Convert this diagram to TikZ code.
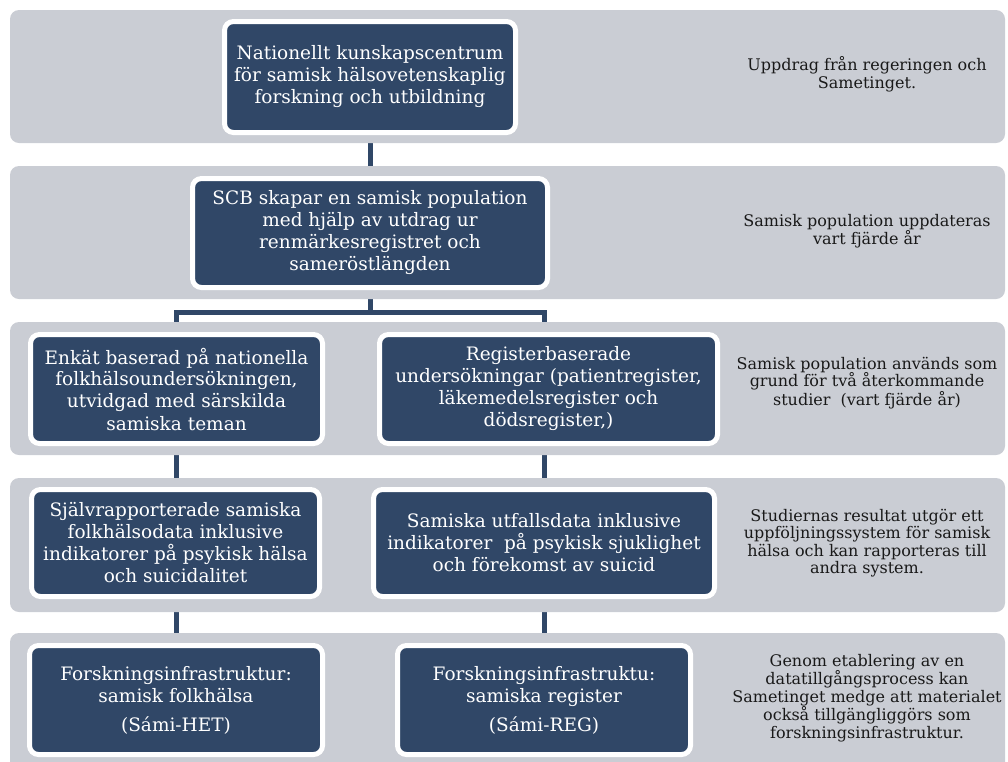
\documentclass[tikz,border=0pt]{standalone}
\usepackage{fontspec}
\setmainfont{DejaVu Serif}
\usetikzlibrary{backgrounds}
\definecolor{bandgray}{RGB}{202,205,212}
\definecolor{boxblue}{RGB}{48,71,103}
\definecolor{sidetext}{RGB}{25,25,25}
\tikzset{
  band/.style={fill=bandgray, rounded corners=9pt},
  stage/.style={draw=white, line width=5pt, fill=boxblue, rounded corners=9pt,
    text=white, align=center, inner sep=2pt,
    font=\fontsize{18.5}{22}\selectfont},
  sidenote/.style={text=sidetext, align=center, inner sep=0pt,
    font=\fontsize{16}{17.5}\selectfont},
  link/.style={draw=boxblue, line width=5pt}
}
\begin{document}
\begin{tikzpicture}[x=1pt,y=-1pt]
\useasboundingbox (0,0) rectangle (1008,761);
% bands
\fill[band] (10,10) rectangle (1005,143);
\fill[band] (10,166) rectangle (1005,299);
\fill[band] (10,322) rectangle (1005,455);
\fill[band] (10,478) rectangle (1005,612);
\fill[band] (10,633) rectangle (1005,775);
% boxes
\node[stage, minimum width=291pt, minimum height=111pt] (top) at (370,77)
  {Nationellt kunskapscentrum\\för samisk hälsovetenskaplig\\forskning och utbildning};
\node[stage, minimum width=355pt, minimum height=109pt] (scb) at (370,233)
  {SCB skapar en samisk population\\med hjälp av utdrag ur\\renmärkesregistret och\\sameröstlängden};
\node[stage, minimum width=292pt, minimum height=109pt] (r3l) at (176.5,389)
  {Enkät baserad på nationella\\folkhälsoundersökningen,\\utvidgad med särskilda\\samiska teman};
\node[stage, minimum width=338pt, minimum height=109pt] (r3r) at (548.5,389)
  {Registerbaserade\\undersökningar (patientregister,\\läkemedelsregister och\\dödsregister,)};
\node[stage, minimum width=288pt, minimum height=107pt] (r4l) at (175.5,543)
  {Självrapporterade samiska\\folkhälsodata inklusive\\indikatorer på psykisk hälsa\\och suicidalitet};
\node[stage, minimum width=341pt, minimum height=107pt] (r4r) at (544,543)
  {Samiska utfallsdata inklusive\\indikatorer\ \ på psykisk sjuklighet\\och förekomst av suicid};
\node[stage, minimum width=293pt, minimum height=109pt] (r5l) at (176,700)
  {Forskningsinfrastruktur:\\samisk folkhälsa\\[7pt](Sámi-HET)};
\node[stage, minimum width=293pt, minimum height=109pt] (r5r) at (544,700)
  {Forskningsinfrastruktu:\\samiska register\\[7pt](Sámi-REG)};
% side notes
\node[sidenote] (n1) at (867,74) {Uppdrag från regeringen och\\Sametinget.};
\node[sidenote] (n2) at (867,231) {Samisk population uppdateras\\vart fjärde år};
\node[sidenote] (n3) at (867,383) {Samisk population används som\\grund för två återkommande\\studier\ \ (vart fjärde år)};
\node[sidenote] (n4) at (867,543) {Studiernas resultat utgör ett\\uppföljningssystem för samisk\\hälsa och kan rapporteras till\\andra system.};
\node[sidenote] (n5) at (867,698) {Genom etablering av en\\datatillgångsprocess kan\\Sametinget medge att materialet\\också tillgängliggörs som\\forskningsinfrastruktur.};
% connectors
\coordinate (br) at (370,312);
\begin{scope}[on background layer]
\draw[link] (top.south) -- (scb.north);
\draw[link] (scb.south) -- (br);
\draw[link] (br) -| (r3l.north);
\draw[link] (br) -| (r4r.north |- r3r.north);
\draw[link] (r3l.south) -- (r3l.south |- r4l.north);
\draw[link] (r4r.north |- r3r.south) -- (r4r.north);
\draw[link] (r5l.north |- r4l.south) -- (r5l.north);
\draw[link] (r4r.south) -- (r5r.north);
\end{scope}
\end{tikzpicture}
\end{document}
